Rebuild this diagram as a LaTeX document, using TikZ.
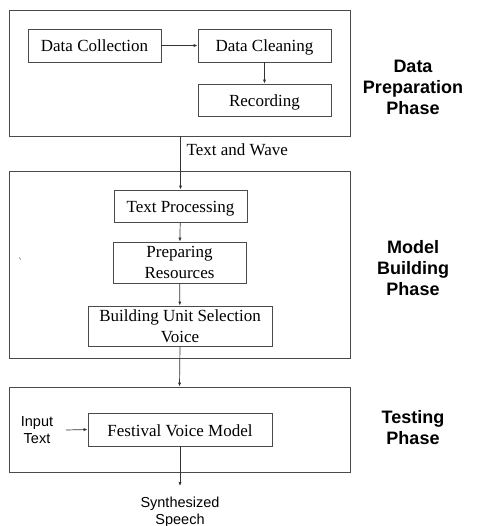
\documentclass[tikz,border=0pt]{standalone}
\usepackage{fontspec}
\setmainfont{Liberation Serif}
\newfontfamily\arialfont{Liberation Sans}
\usetikzlibrary{arrows.meta}
\definecolor{edge}{HTML}{4A4A4A}
\tikzset{
  phasebox/.style={draw=edge, line width=0.9pt, minimum width=341pt, inner sep=0pt},
  stepbox/.style={draw=edge, line width=0.9pt, inner sep=0pt,
    font=\fontsize{17}{21}\selectfont, align=center},
  oneline/.style={text height=13.5pt, text depth=0.5pt},
  phaselabel/.style={font=\arialfont\bfseries\fontsize{18}{21}\selectfont, align=center},
  iolabel/.style={font=\arialfont\fontsize{14.5}{17}\selectfont, align=center},
  arr/.style={draw=black!80, line width=0.7pt, -{Latex[length=4pt,width=3.2pt]}},
}
\begin{document}
\begin{tikzpicture}[x=1pt,y=-1pt]
\useasboundingbox (0,0) rectangle (478,526);

% phase frames
\node[phasebox, minimum height=126pt] (prep) at (179.5,73) {};
\node[phasebox, minimum height=187pt] (build) at (179.5,264.5) {};
\node[phasebox, minimum height=85pt] (test) at (179.5,429.5) {};

% data preparation steps
\node[stepbox, oneline, minimum width=133pt, minimum height=33pt] (collect) at (94.5,45.5) {Data Collection};
\node[stepbox, oneline, minimum width=133pt, minimum height=33pt] (clean) at (264.5,45.5) {Data Cleaning};
\node[stepbox, oneline, minimum width=133pt, minimum height=32pt] (record) at (264.5,100) {Recording};

% model building steps
\node[stepbox, oneline, minimum width=133pt, minimum height=32pt] (textproc) at (180.5,206) {Text Processing};
\node[stepbox, minimum width=133pt, minimum height=41pt] (resources) at (179.5,262.5) {Preparing\\Resources};
\node[stepbox, minimum width=184pt, minimum height=40pt] (unitsel) at (180,326) {Building Unit Selection\\Voice};

% testing step
\node[stepbox, oneline, minimum width=184pt, minimum height=33pt] (festival) at (180,429.5) {Festival Voice Model};
\node[iolabel] (input) at (37,430) {Input\\Text};
\coordinate (inputend) at (66,430);
\coordinate (speechend) at (180,486);
\node[iolabel] (speech) at (180,512) {Synthesized\\Speech};

% phase names
\node[phaselabel] (lprep) at (413,87) {Data\\Preparation\\Phase};
\node[phaselabel] (lbuild) at (413,268) {Model\\Building\\Phase};
\node[phaselabel] (ltest) at (413,428) {Testing\\Phase};

% flow
\draw[arr] (collect) -- (clean);
\draw[arr] (clean) -- (record);
\draw[arr] (textproc.north |- prep.south) -- (textproc.north);
\node[font=\fontsize{17}{21}\selectfont, anchor=west] (tw) at (183,150) {Text and Wave};
\draw[arr] (textproc) -- (resources);
\draw[arr] (resources) -- (unitsel);
\draw[arr] (unitsel.south) -- (test.north);
\draw[arr] (inputend) -- (festival.west);
\draw[arr] (festival.south) -- (speechend);

% small tick inside the model building frame
\draw[black!70, line width=0.6pt] (19.5,257.5) -- (20.5,259.5);
\end{tikzpicture}
\end{document}
